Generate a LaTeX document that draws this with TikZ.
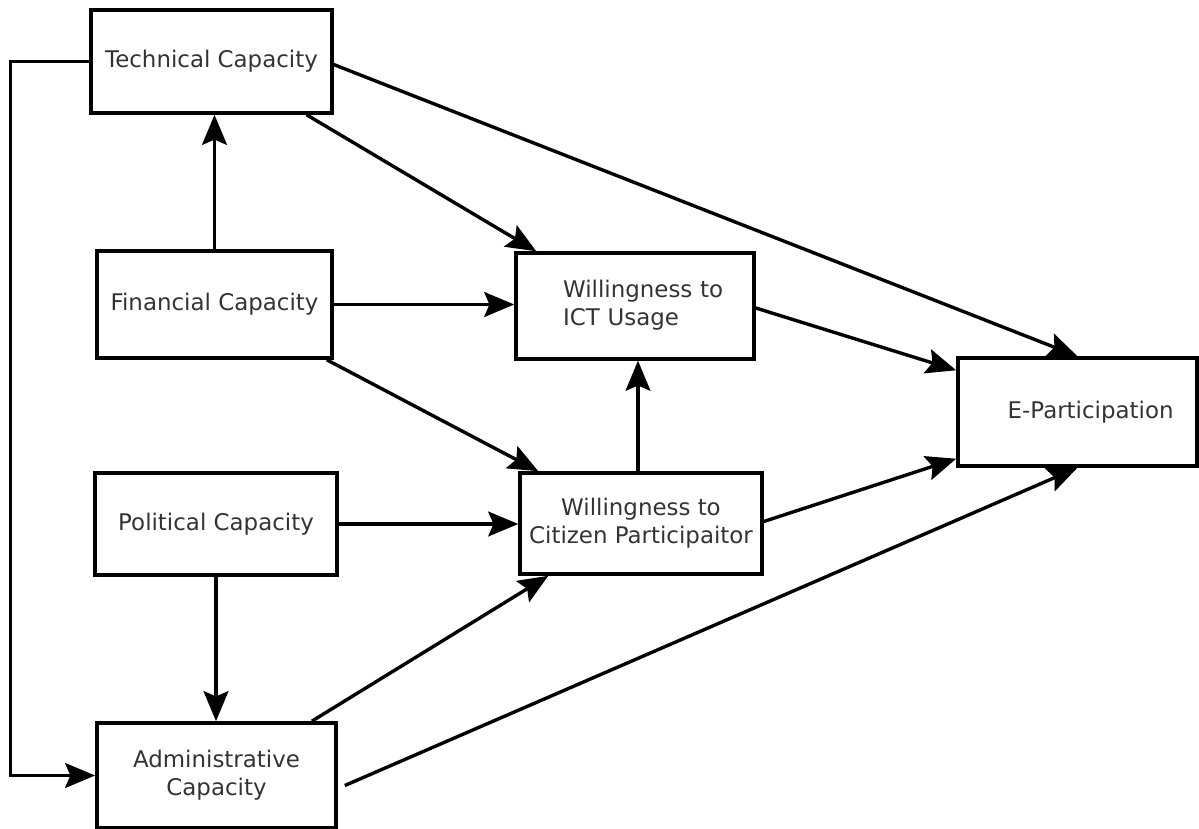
\documentclass[tikz,border=0pt]{standalone}
\usepackage{fontspec}
\setmainfont{DejaVu Sans}
\usetikzlibrary{arrows.meta,calc}

\begin{document}
\begin{tikzpicture}[x=0.025cm,y=-0.025cm,
    >={Stealth[length=0.75cm,width=0.62cm,inset=0.13cm]},
    box/.style={draw,line width=0.085cm,inner sep=1pt,text=black!80,
      font=\fontsize{16.3}{20}\selectfont,align=center}]
    \useasboundingbox (0,0) rectangle (1199,829);
    %% Draw the boxes
    \node[box,minimum width=6.02cm,minimum height=2.58cm] (TC) at (211.5,61.5) {Technical Capacity};
    \node[box,minimum width=5.88cm,minimum height=2.68cm] (FC) at (214.5,304.5) {Financial Capacity};
    \node[box,minimum width=6.05cm,minimum height=2.55cm] (PC) at (216,524) {Political Capacity};
    \node[box,minimum width=5.98cm,minimum height=2.63cm] (AC) at (216.5,775.5) {Administrative\\Capacity};
    \node[box,minimum width=5.95cm,minimum height=2.65cm,text width=4.4cm,align=right] (WI) at (635,306) {\begin{tabular}{@{}l@{}}Willingness to\\ICT Usage\end{tabular}};
    \node[box,minimum width=6.05cm,minimum height=2.53cm] (WC) at (641,523.5) {Willingness to\\Citizen Participaitor};
    \node[box,minimum width=5.98cm,minimum height=2.7cm,text width=4.8cm,align=right] (EP) at (1077.5,412) {E-Participation};
    %% Draw the arrows
    \coordinate (WCup) at ($(WC.north)+(-3,0)$);
    \begin{scope}[every path/.style={->,line width=0.085cm}]
      \draw (TC.west) -- ++(-79,0) |- (AC.west);
      \draw (FC.north) -- (FC.north |- TC.south);
      \draw ($(TC.south east)+(-27,0)$) -- ($(WI.north west)+(22,0)$);
      \draw ($(TC.east)+(0,3)$) -- (EP.north);
      \draw (FC.east) -- (FC.east -| WI.west);
      \draw ($(FC.south east)+(-7,0)$) -- ($(WC.north west)+(20,0)$);
      \draw (PC.east) -- (PC.east -| WC.west);
      \draw (PC.south) -- (PC.south |- AC.north);
      \draw ($(AC.north east)+(-26,0)$) -- ($(WC.south west)+(30,0)$);
      \draw ($(AC.east)+(7,10)$) -- (EP.south);
      \draw (WCup) -- (WCup |- WI.south);
      \draw ($(WI.east)+(0,2)$) -- ($(EP.north west)+(0,14)$);
      \draw ($(WC.east)+(0,-2)$) -- ($(EP.south west)+(0,-9)$);
    \end{scope}
  \end{tikzpicture}
\end{document}
